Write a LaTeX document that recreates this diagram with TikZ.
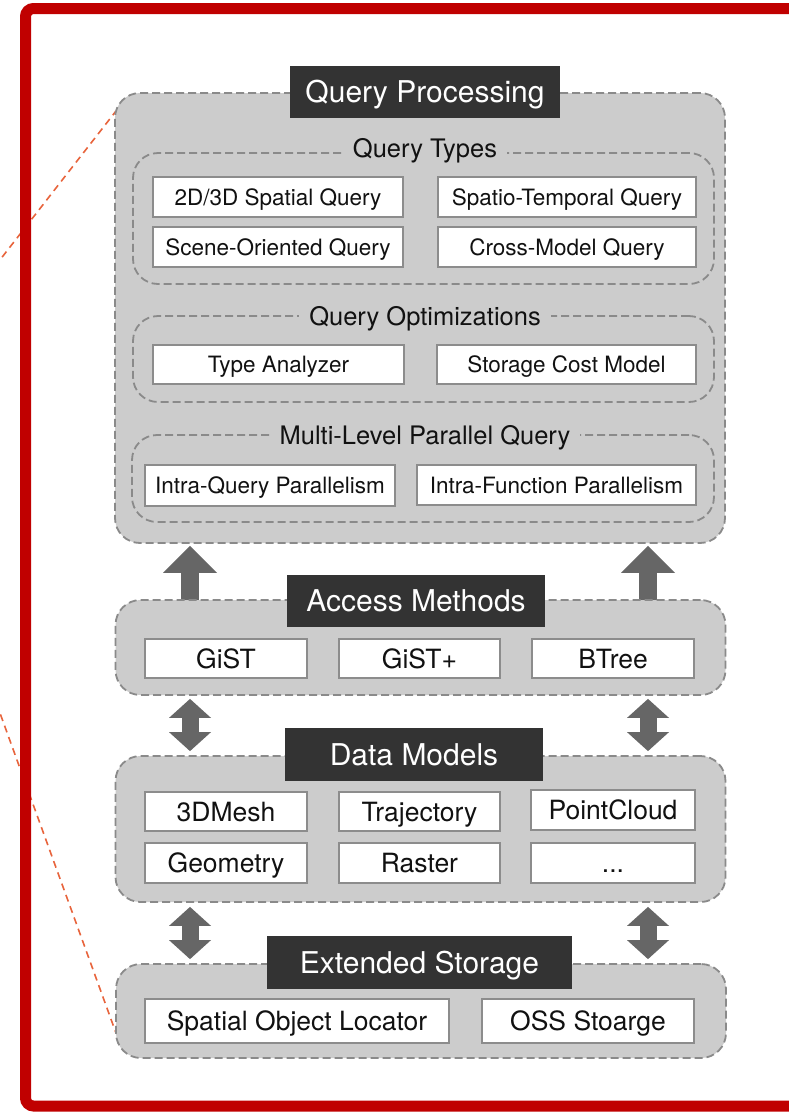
\documentclass[tikz,border=0pt]{standalone}
\usepackage{fontspec}
\setmainfont{TeX Gyre Heros}
\usetikzlibrary{arrows.meta}
\definecolor{framec}{HTML}{C00000}
\definecolor{grp}{HTML}{CCCCCC}
\definecolor{dsh}{HTML}{8A8A8A}
\definecolor{ttl}{HTML}{333333}
\definecolor{arr}{HTML}{666666}
\definecolor{zoomc}{HTML}{E8643C}
\definecolor{bbord}{HTML}{8C8C8C}
\definecolor{txt}{HTML}{111111}
\tikzset{
 grpbox/.style={draw=dsh, fill=grp, dash pattern=on 8pt off 4pt, line width=1.8pt, rounded corners=25pt, inner sep=0pt},
 subbox/.style={draw=dsh, dash pattern=on 8pt off 4pt, line width=1.8pt, rounded corners=25pt, inner sep=0pt},
 ttlbox/.style={fill=ttl, text=white, font=\fontsize{30}{36}\selectfont, inner sep=0pt, text height=21.6pt, text depth=0pt},
 subttl/.style={fill=grp, font=\fontsize{25.5}{30}\selectfont, inner xsep=10pt, inner ysep=1pt, text=txt},
 qbox/.style={draw=bbord, fill=white, line width=1.8pt, font=\fontsize{22.5}{27}\selectfont, inner sep=0pt, text=txt, text height=16.2pt, text depth=0pt},
 mbox/.style={qbox, font=\fontsize{26.5}{31}\selectfont, text height=19pt},
 uparr/.style={draw=arr, line width=18pt, -{Triangle[width=54pt,length=27pt,line width=0pt]}},
 dblarr/.style={draw=arr, line width=17pt, {Triangle[width=42pt,length=19pt,line width=0pt]}-{Triangle[width=42pt,length=19pt,line width=0pt]}},
 zoomline/.style={draw=zoomc, line width=1.6pt, dash pattern=on 7pt off 5pt},
}
\begin{document}
\begin{tikzpicture}[x=1pt,y=-1pt]
\useasboundingbox (0,0) rectangle (789,1112);
\clip (0,0) rectangle (789,1112);
\fill[white] (0,0) rectangle (789,1112);

% zoom lines (free ends off the picture)
\coordinate (z1a) at (-20,285.5);
\coordinate (z1b) at (116,111);
\coordinate (z2a) at (-20,658);
\coordinate (z2b) at (116,1033);
\draw[zoomline] (z1a) -- (z1b);
\draw[zoomline] (z2a) -- (z2b);

% red frame
\draw[framec, line width=11pt, rounded corners=8pt] (830,8.5) -- (25.5,8.5) -- (25.5,1106) -- (830,1106);

% arrows (drawn first, boxes cover their ends)
\coordinate (ua1) at (190,605);
\coordinate (ua2) at (648,605);
\coordinate (da1) at (190,700);
\coordinate (da2) at (648,700);
\coordinate (db1) at (190,905);
\coordinate (db2) at (648,905);

% ---------------- Query Processing ----------------
\node[grpbox, minimum width=610pt, minimum height=450pt] (qp) at (420,318) {};
\node[ttlbox, minimum width=270pt, minimum height=52pt] (qpt) at (425,92) {Query Processing};

\node[subbox, minimum width=581pt, minimum height=131pt] (qt) at (423.5,218.5) {};
\node[subttl] (qtt) at (425,151) {Query Types};
\node[qbox, minimum width=250pt, minimum height=40pt] (q1) at (278,197) {2D/3D Spatial Query};
\node[qbox, minimum width=258pt, minimum height=40pt] (q2) at (567,197) {Spatio-Temporal Query};
\node[qbox, minimum width=250pt, minimum height=40pt] (q3) at (278,247) {Scene-Oriented Query};
\node[qbox, minimum width=258pt, minimum height=40pt] (q4) at (567,247) {Cross-Model Query};

\node[subbox, minimum width=581pt, minimum height=86pt] (qo) at (423.5,359) {};
\node[subttl] (qot) at (425,319) {Query Optimizations};
\node[qbox, minimum width=251pt, minimum height=39pt] (o1) at (278.5,364.5) {Type Analyzer};
\node[qbox, minimum width=259pt, minimum height=39pt] (o2) at (566.5,364.5) {Storage Cost Model};

\node[subbox, minimum width=582pt, minimum height=87pt] (mp) at (423,478.5) {};
\node[subttl] (mpt) at (425,438) {Multi-Level Parallel Query};
\node[qbox, minimum width=250pt, minimum height=41pt] (p1) at (270,485.5) {Intra-Query Parallelism};
\node[qbox, minimum width=279pt, minimum height=40pt] (p2) at (556.5,485) {Intra-Function Parallelism};

% up arrows
\draw[uparr, shorten >=2pt] (ua1) -- (ua1 |- qp.south);
\draw[uparr, shorten >=2pt] (ua2) -- (ua2 |- qp.south);

% ---------------- Access Methods ----------------
\node[grpbox, minimum width=610pt, minimum height=95pt] (am) at (420.5,647.5) {};
\node[ttlbox, minimum width=258pt, minimum height=52pt] (amt) at (416,601) {Access Methods};
\node[mbox, minimum width=162pt, minimum height=39pt] (a1) at (226,658.5) {GiST};
\node[mbox, minimum width=161pt, minimum height=39pt] (a2) at (419.5,658.5) {GiST+};
\node[mbox, minimum width=162pt, minimum height=39pt] (a3) at (613,658.5) {BTree};

% ---------------- Data Models ----------------
\node[grpbox, minimum width=610pt, minimum height=146pt] (dm) at (420.5,829) {};
\node[ttlbox, minimum width=258pt, minimum height=53pt] (dmt) at (414,754.5) {Data Models};
\node[mbox, minimum width=162pt, minimum height=39pt] (d1) at (226,811.5) {3DMesh};
\node[mbox, minimum width=161pt, minimum height=39pt] (d2) at (419.5,811.5) {Trajectory};
\node[mbox, minimum width=164pt, minimum height=40pt] (d3) at (613,810) {PointCloud};
\node[mbox, minimum width=162pt, minimum height=40pt] (d4) at (226,863) {Geometry};
\node[mbox, minimum width=161pt, minimum height=40pt] (d5) at (419.5,863) {Raster};
\node[mbox, minimum width=164pt, minimum height=40pt] (d6) at (613,863) {...};

% ---------------- Extended Storage ----------------
\node[grpbox, minimum width=610pt, minimum height=94pt] (es) at (421,1011) {};
\node[ttlbox, minimum width=305pt, minimum height=53pt] (est) at (419.5,962.5) {Extended Storage};
\node[mbox, minimum width=304pt, minimum height=44pt] (e1) at (297,1021) {Spatial Object Locator};
\node[mbox, minimum width=212pt, minimum height=44pt] (e2) at (588,1021) {OSS Stoarge};

% double arrows
\draw[dblarr, shorten <=3pt, shorten >=4pt] (da1 |- am.south) -- (da1 |- dm.north);
\draw[dblarr, shorten <=3pt, shorten >=4pt] (da2 |- am.south) -- (da2 |- dm.north);
\draw[dblarr, shorten <=4pt, shorten >=4pt] (db1 |- dm.south) -- (db1 |- es.north);
\draw[dblarr, shorten <=4pt, shorten >=4pt] (db2 |- dm.south) -- (db2 |- es.north);
\end{tikzpicture}
\end{document}
